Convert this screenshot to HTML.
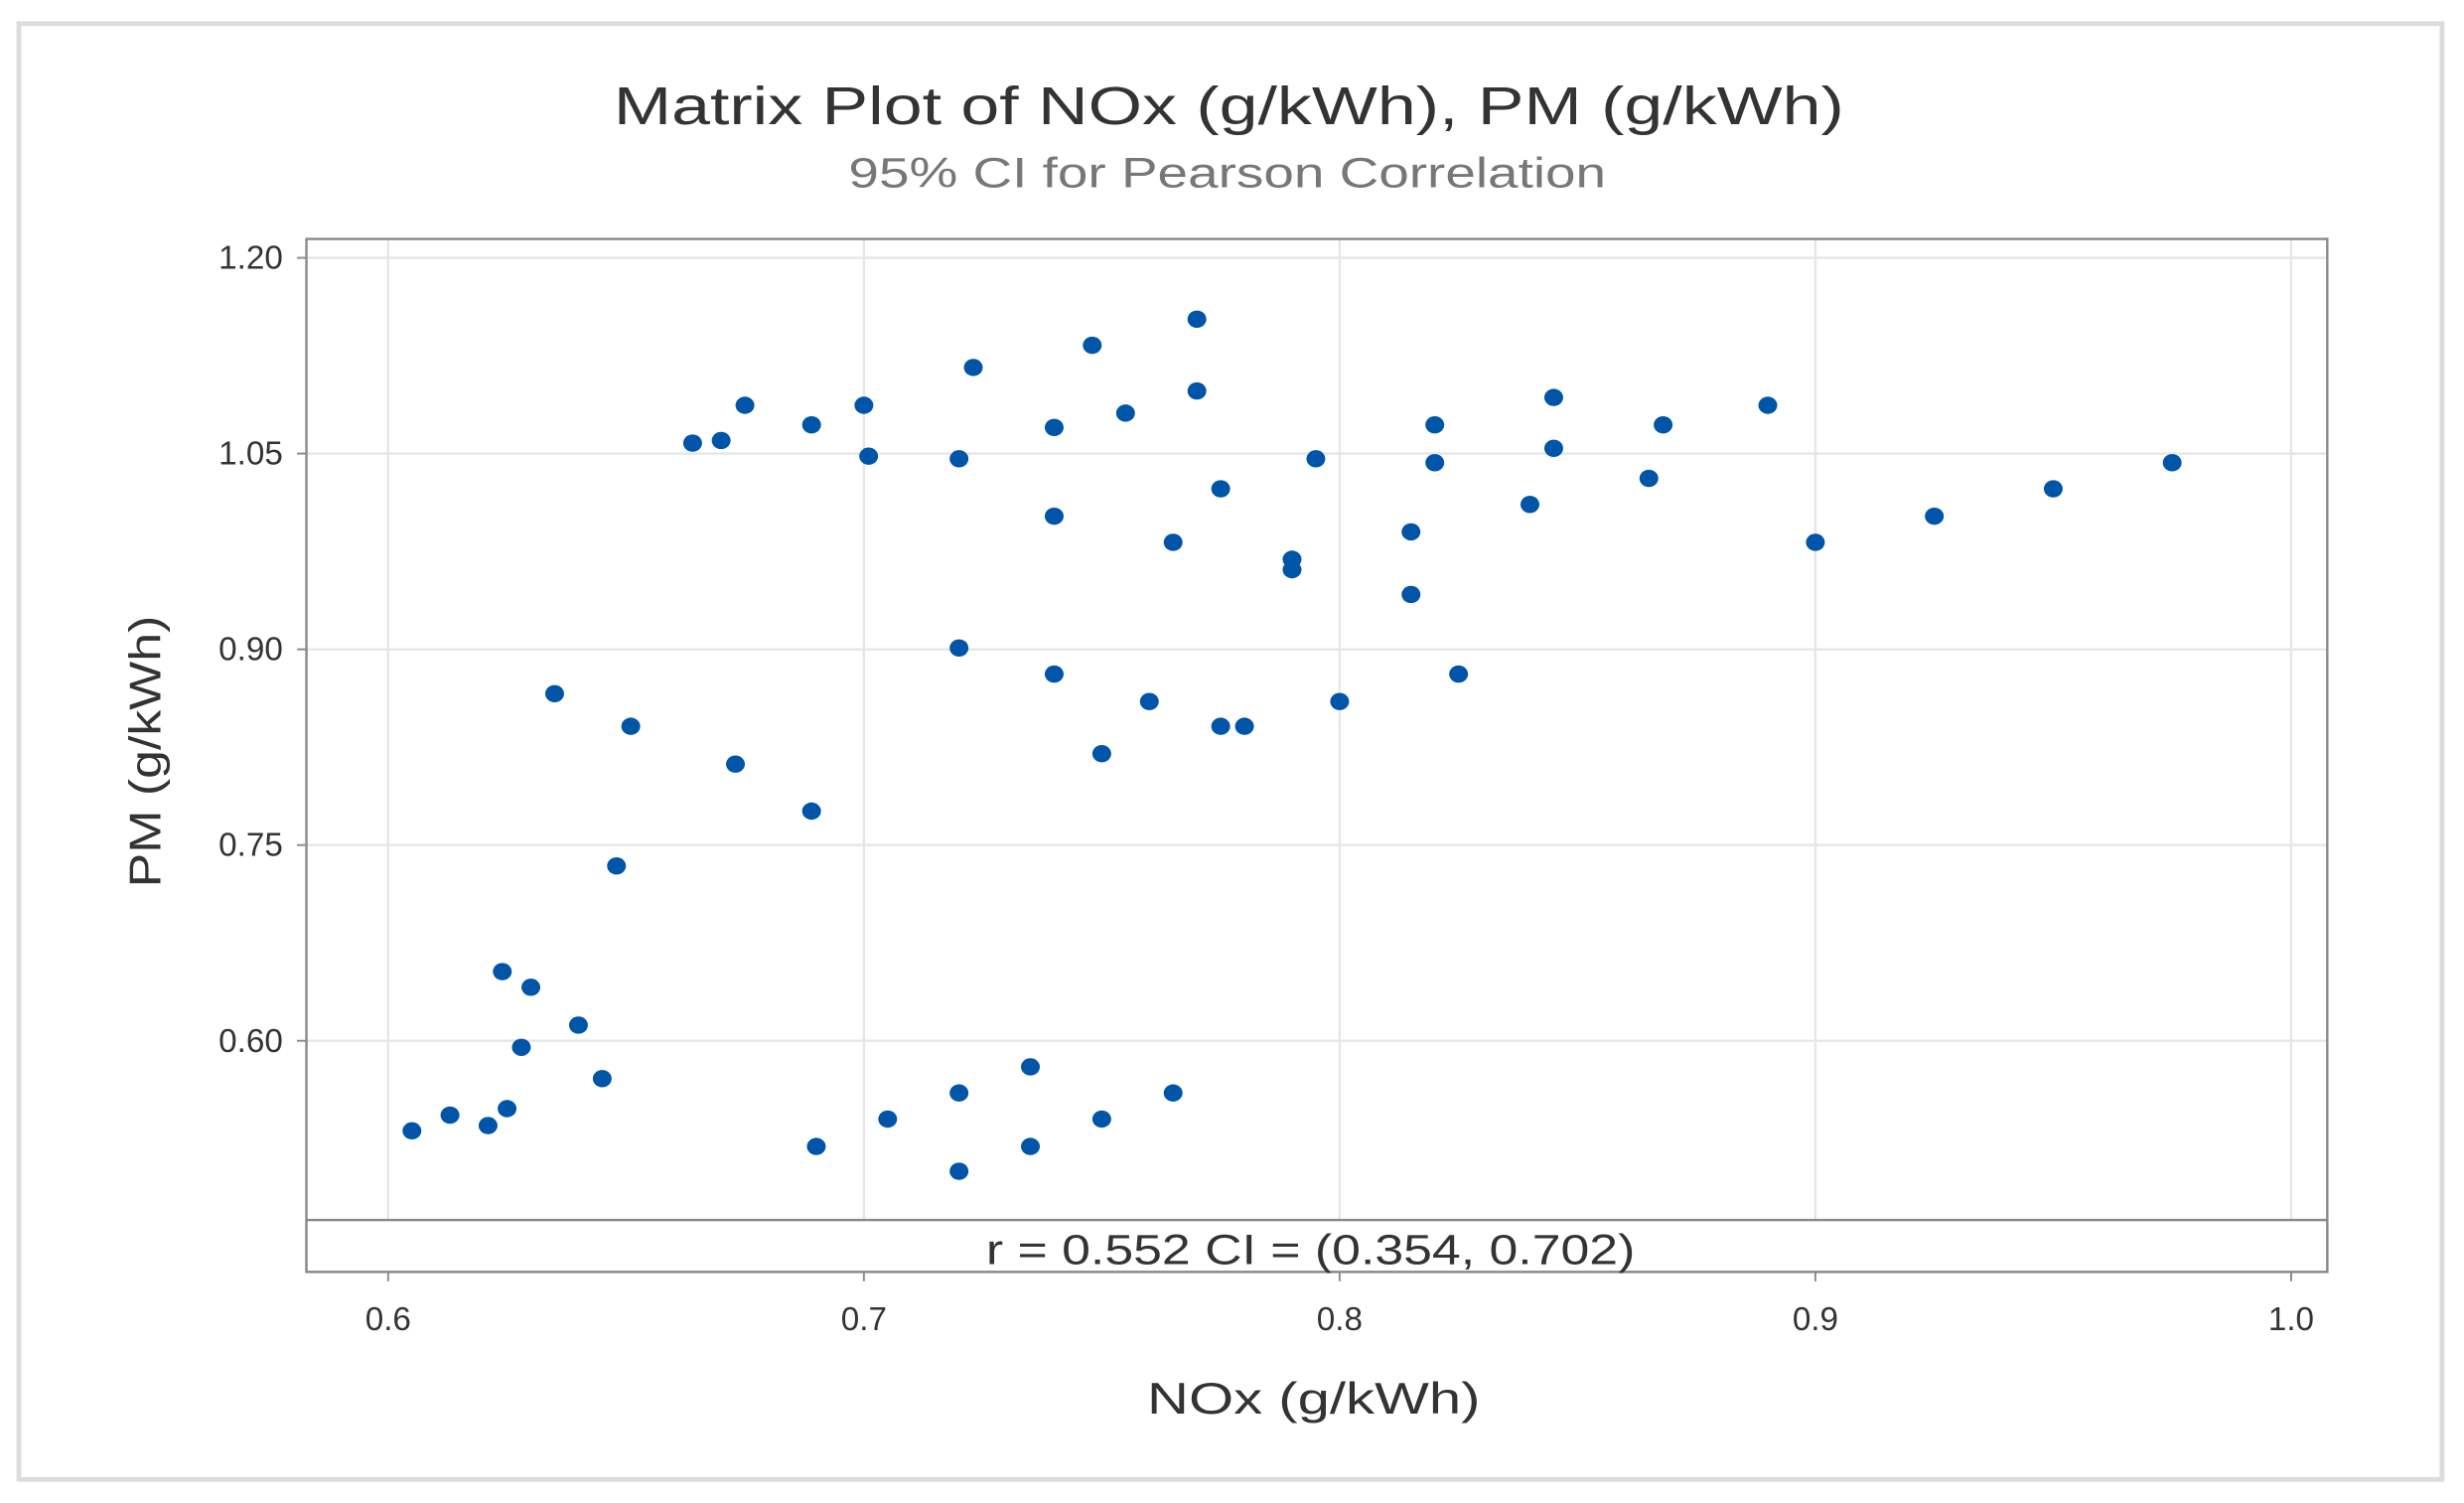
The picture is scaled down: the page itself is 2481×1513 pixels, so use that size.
<!DOCTYPE html>
<html><head><meta charset="utf-8"><style>
html,body{margin:0;padding:0;background:#fff;width:2481px;height:1513px;overflow:hidden}
svg{display:block}
text{font-family:"Liberation Sans",sans-serif}
</style></head><body>
<svg id="chart" width="2481" height="1513" viewBox="0 0 1568 956" preserveAspectRatio="none">
<rect x="12" y="15" width="1542" height="926" fill="#fff" stroke="#dcdcdc" stroke-width="3"/>
<text x="782" y="79" font-size="34" text-anchor="middle" fill="#333" textLength="783" lengthAdjust="spacingAndGlyphs">Matrix Plot of NOx (g/kWh), PM (g/kWh)</text>
<text x="781" y="119" font-size="27" text-anchor="middle" fill="#777" textLength="482" lengthAdjust="spacingAndGlyphs">95% CI for Pearson Correlation</text>
<g id="grid"></g>
<rect x="195" y="152" width="1286" height="657" fill="none" stroke="#888" stroke-width="1.5"/>
<rect x="195" y="776" width="1286" height="33" fill="#fff" stroke="#888" stroke-width="1.5"/>
<text x="834" y="804" font-size="27" text-anchor="middle" fill="#333" textLength="413" lengthAdjust="spacingAndGlyphs">r = 0.552  CI = (0.354, 0.702)</text>
<g id="xticks"></g>
<g id="yticks"></g>
<g id="points"></g>
<text x="836" y="899" font-size="28" text-anchor="middle" fill="#333" textLength="212" lengthAdjust="spacingAndGlyphs">NOx (g/kWh)</text>
<text transform="translate(102,478) rotate(-90)" font-size="28" text-anchor="middle" fill="#333" textLength="173" lengthAdjust="spacingAndGlyphs">PM (g/kWh)</text>
</svg>
<script>
const xTicks=[0.6,0.7,0.8,0.9,1.0];
const xTickLabels=["0.6","0.7","0.8","0.9","1.0"];
const yTicks=[0.60,0.75,0.90,1.05,1.20];
const yTickLabels=["0.60","0.75","0.90","1.05","1.20"];
const noxValues=[0.605,0.613,0.621,0.625,0.624,0.630,0.628,0.640,0.645,0.648,0.635,0.651,0.673,0.689,0.690,0.705,0.720,0.720,0.735,0.735,0.750,0.765,0.664,0.670,0.675,0.689,0.700,0.701,0.720,0.723,0.720,0.740,0.740,0.740,0.748,0.750,0.755,0.760,0.765,0.770,0.770,0.775,0.775,0.780,0.790,0.790,0.795,0.800,0.815,0.815,0.820,0.820,0.825,0.840,0.845,0.845,0.865,0.868,0.890,0.900,0.925,0.950,0.975];
const pmValues=[0.531,0.543,0.535,0.548,0.653,0.641,0.595,0.612,0.571,0.734,0.866,0.841,0.812,0.776,0.519,0.540,0.560,0.500,0.580,0.519,0.540,0.560,1.058,1.060,1.087,1.072,1.087,1.048,1.046,1.116,0.901,1.070,1.002,0.881,1.133,0.820,1.081,0.860,0.982,1.153,1.098,1.023,0.841,0.841,0.969,0.961,1.046,0.860,0.990,0.942,1.072,1.043,0.881,1.011,1.093,1.054,1.031,1.072,1.087,0.982,1.002,1.023,1.043];
const NS="http://www.w3.org/2000/svg";
const xs=v=>247+(v-0.6)*3027.5;
const ys=v=>164+(1.2-v)*830;
function mk(t,a){const e=document.createElementNS(NS,t);for(const k in a)e.setAttribute(k,a[k]);return e;}
const grid=document.getElementById('grid'),xg=document.getElementById('xticks'),yg=document.getElementById('yticks'),pg=document.getElementById('points');
xTicks.forEach((v,i)=>{
  const l=mk('line',{x1:xs(v),x2:xs(v),y1:152,y2:776,stroke:'#e6e6e6','stroke-width':1.5});
  
  
  grid.appendChild(l);
  const tk=mk('line',{x1:xs(v),x2:xs(v),y1:809,y2:815,stroke:'#888','stroke-width':1.2});
  
  
  xg.appendChild(tk);
  const t=mk('text',{x:xs(v),y:846,'font-size':21,'text-anchor':'middle',fill:'#333'});
  t.textContent=xTickLabels[i];
  
  
  xg.appendChild(t);
});
yTicks.forEach((v,i)=>{
  const l=mk('line',{x1:195,x2:1481,y1:ys(v),y2:ys(v),stroke:'#e6e6e6','stroke-width':1.5});
  
  
  grid.appendChild(l);
  const tk=mk('line',{x1:189,x2:195,y1:ys(v),y2:ys(v),stroke:'#888','stroke-width':1.2});
  
  
  yg.appendChild(tk);
  const t=mk('text',{x:180,y:ys(v)+7,'font-size':21,'text-anchor':'end',fill:'#333'});
  t.textContent=yTickLabels[i];
  
  
  yg.appendChild(t);
});
noxValues.forEach((x,i)=>{
  const c=mk('ellipse',{cx:xs(x),cy:ys(pmValues[i]),rx:6,ry:5.5,fill:'#0055a8'});
  
  
  pg.appendChild(c);
});
</script>
</body></html>
